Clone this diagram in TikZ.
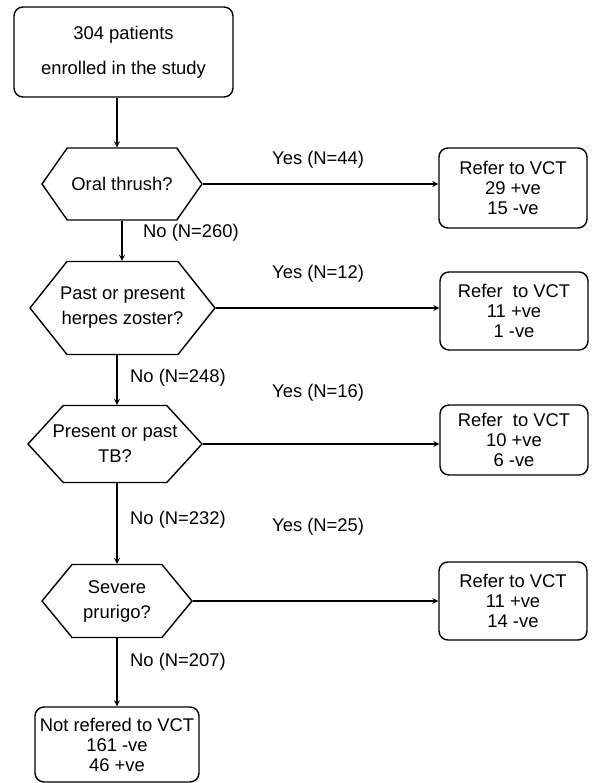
\documentclass[tikz,border=0pt]{standalone}
\usepackage{fontspec}
\setmainfont{Liberation Sans}
\usetikzlibrary{shapes.symbols}
\tikzstyle{startbox} = [rectangle, rounded corners=9pt, draw=black, line width=1.4pt, align=center, minimum width=219pt, minimum height=90pt, inner sep=0pt]
\tikzstyle{result} = [rectangle, rounded corners=9pt, draw=black, line width=1.4pt, align=center, minimum width=148pt, inner sep=0pt]
\tikzstyle{decision} = [signal, signal to=west and east, draw=black, line width=1.4pt, align=center, inner sep=0pt]
\tikzstyle{flow} = [line width=1.6pt,->,>=stealth]
\tikzstyle{branch} = [anchor=west, inner sep=0pt]
% text lines that may run past the hexagon corners
\newcommand{\hexline}[1]{\makebox[0pt]{#1}}

\begin{document}
\begin{tikzpicture}[node distance=130pt, font=\fontsize{18.4}{20}\selectfont]
    \useasboundingbox (0,0) rectangle (594pt,-783pt);

    \node (start) [startbox] at (123.5pt,-52pt) {304 patients\\[15pt]enrolled in the study};
    \node (q1) [decision, below of=start, xshift=-1.5pt, yshift=-2pt, minimum width=160pt, minimum height=72pt, signal pointer angle=110] {\hexline{Oral thrush?}};
    \node (q2) [decision, below of=q1, xshift=0.5pt, yshift=6pt, minimum width=185pt, minimum height=93pt, signal pointer angle=103] {\hexline{Past or present}\\[5pt]\hexline{herpes zoster?}};
    \node (q3) [decision, below of=q2, xshift=-7.5pt, yshift=-6pt, minimum width=174pt, minimum height=77pt, signal pointer angle=95] {\hexline{Present or past}\\[5pt]\hexline{TB?}};
    \node (q4) [decision, below of=q3, xshift=2pt, yshift=-27pt, minimum width=150pt, minimum height=73pt, signal pointer angle=101] {\hexline{Severe}\\[5pt]\hexline{prurigo?}};
    \node (last) [result, below of=q4, yshift=-13.5pt, minimum width=164pt, minimum height=75pt] {Not refered to VCT\\161 -ve\\46 +ve};

    \node (r1) [result, right of=q1, xshift=261pt, yshift=-4pt, minimum height=80pt] {Refer to VCT\\29 +ve\\15 -ve};
    \node (r2) [result, right of=q2, xshift=261.5pt, yshift=-3pt, minimum height=78pt] {Refer~~to VCT\\11 +ve\\1 -ve};
    \node (r3) [result, right of=q3, xshift=269pt, yshift=4pt, minimum height=70pt] {Refer~~to VCT\\10 +ve\\6 -ve};
    \node (r4) [result, right of=q4, xshift=266pt, yshift=0pt, minimum height=78pt] {Refer to VCT\\11 +ve\\14 -ve};

    \node (no1) [branch] at (143pt,-233pt) {No (N=260)};
    \node (no2) [branch] at (130pt,-378pt) {No (N=248)};
    \node (no3) [branch] at (130pt,-520pt) {No (N=232)};
    \node (no4) [branch] at (130pt,-662pt) {No (N=207)};
    \node (yes1) [branch] at (272pt,-160pt) {Yes (N=44)};
    \node (yes2) [branch] at (272pt,-274pt) {Yes (N=12)};
    \node (yes3) [branch] at (272pt,-393pt) {Yes (N=16)};
    \node (yes4) [branch] at (272pt,-527pt) {Yes (N=25)};

    \draw [flow] (start.south -| last.north) -- (q1.north -| last.north);
    \draw [flow] (q1.south) -- (q1.south |- q2.north);
    \draw [flow] (q2.south -| last.north) -- (q3.north -| last.north);
    \draw [flow] (q3.south -| last.north) -- (q4.north -| last.north);
    \draw [flow] (q4.south -| last.north) -- (last.north);
    \draw [flow] (q1.east) -- (r1.west |- q1.east);
    \draw [flow] (q2.east) -- (r2.west |- q2.east);
    \draw [flow] (q3.east) -- (r3.west |- q3.east);
    \draw [flow] (q4.east) -- (r4.west |- q4.east);
\end{tikzpicture}
\end{document}
